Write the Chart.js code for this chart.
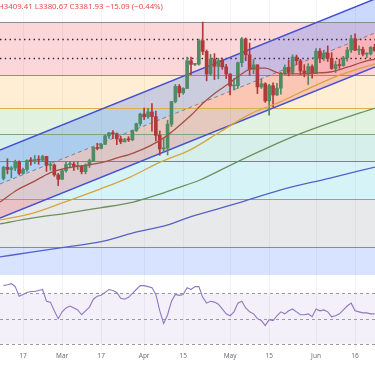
<!DOCTYPE html>
<html><head><meta charset="utf-8">
<script src="https://cdn.jsdelivr.net/npm/chart.js@4.4.1/dist/chart.umd.min.js"></script>
<style>
html,body{margin:0;padding:0;background:#fff;width:375px;height:366px;overflow:hidden;font-family:'Noto Sans','DejaVu Sans',sans-serif}
#main{position:absolute;left:0;top:0;width:375px;height:275px}
#rsi{position:absolute;left:0;top:275px;width:375px;height:91px}
#hdr{position:absolute;left:-2px;top:1px;font-size:7.8px;color:#ee4c46;white-space:nowrap;z-index:2;line-height:10px;font-family:'Noto Sans',sans-serif}
</style></head><body>
<div id="main"><canvas id="c1"></canvas></div>
<div id="rsi"><canvas id="c2"></canvas></div>
<div id="hdr">H3409.41 L3380.67 C3381.93 −15.09 (−0.44%)</div>
<script>
// ---- categories (trading days) ----
const dates = ['02-10','02-11','02-12','02-13','02-14','02-17','02-18','02-19','02-20','02-21','02-24','02-25','02-26','02-27','02-28',
'03-03','03-04','03-05','03-06','03-07','03-10','03-11','03-12','03-13','03-14','03-17','03-18','03-19','03-20','03-21','03-24','03-25','03-26','03-27','03-28','03-31',
'04-01','04-02','04-03','04-04','04-07','04-08','04-09','04-10','04-11','04-14','04-15','04-16','04-17','04-18','04-21','04-22','04-23','04-24','04-25','04-28','04-29','04-30',
'05-01','05-02','05-05','05-06','05-07','05-08','05-09','05-12','05-13','05-14','05-15','05-16','05-19','05-20','05-21','05-22','05-23','05-26','05-27','05-28','05-29','05-30',
'06-02','06-03','06-04','06-05','06-06','06-09','06-10','06-11','06-12','06-13','06-16','06-17','06-18','06-19','06-20','06-23'];
const tickIndex = [5,15,25,36,46,58,68,80,90];
const tickText = ['17','Mar','17','Apr','15','May','15','Jun','16'];

// ---- OHLC ----
const open = [2861,2907,2898,2904,2929,2882,2898,2935,2933,2939,2936,2951,2915,2916,2876,
2858,2893,2918,2920,2910,2911,2889,2916,2934,2988,2984,3001,3035,3047,3044,3023,3011,3020,3019,3057,3085,
3124,3113,3133,3114,3037,2982,2985,3083,3175,3237,3211,3229,3342,3327,3328,3424,3380,3288,3349,3319,3343,3317,
3288,3239,3240,3334,3431,3366,3306,3325,3235,3248,3178,3240,3202,3230,3290,3315,3294,3357,3342,3300,3289,3318,
3289,3381,3353,3373,3352,3310,3326,3322,3354,3386,3432,3385,3388,3369,3370,3397];
const high = [2911,2942,2910,2936,2933,2904,2937,2947,2955,2954,2956,2952,2930,2920,2882,
2897,2928,2930,2927,2930,2915,2921,2940,2990,3005,3004,3038,3050,3057,3047,3033,3025,3032,3059,3087,3128,
3149,3148,3167,3136,3055,3023,3099,3176,3245,3245,3232,3357,3357,3331,3430,3500,3386,3368,3371,3352,3353,3327,
3289,3269,3336,3437,3435,3414,3347,3326,3266,3252,3246,3252,3250,3295,3325,3345,3366,3365,3348,3326,3330,3325,
3392,3392,3385,3403,3375,3340,3349,3360,3397,3446,3452,3403,3398,3374,3400,3409.41];
const low = [2855,2880,2864,2893,2876,2880,2890,2915,2922,2919,2930,2890,2895,2870,2832,
2857,2887,2905,2894,2898,2880,2880,2906,2930,2978,2982,2999,3025,3025,2999,3003,3010,3012,3015,3053,3076,
3101,3106,3054,3015,2956,2970,2957,3073,3170,3194,3205,3228,3285,3322,3324,3367,3260,3282,3265,3268,3307,3269,
3202,3223,3229,3318,3342,3282,3289,3208,3229,3172,3120,3154,3200,3205,3286,3280,3287,3325,3285,3276,3245,3271,
3289,3334,3343,3339,3307,3294,3311,3319,3340,3376,3383,3367,3362,3355,3365,3380.67];
const close = [2907,2898,2904,2929,2882,2898,2935,2933,2939,2936,2951,2915,2916,2876,2858,
2893,2918,2920,2910,2911,2889,2916,2934,2988,2984,3001,3035,3047,3044,3023,3011,3020,3019,3057,3085,3124,
3113,3133,3114,3037,2982,2985,3083,3175,3237,3211,3229,3342,3327,3328,3424,3380,3288,3349,3319,3343,3317,3288,
3239,3240,3334,3431,3366,3306,3325,3235,3248,3178,3240,3202,3230,3290,3315,3294,3357,3342,3300,3289,3318,3289,
3381,3353,3373,3352,3310,3326,3322,3354,3386,3432,3385,3388,3369,3370,3397,3381.93];

// ---- moving averages: [dayIndex, price] ----
const ma20 = [[-0.9,2765],[3.5,2814],[7.6,2847],[11.9,2884],[16.3,2904],[21.4,2916],[24.7,2925],[29.1,2945],[33.2,2965],[37.5,2994],[41.4,3031],[45.2,3080],[47.8,3116],[51.1,3169],[54.2,3210],[57.5,3247],[60.6,3284],[63.9,3312],[67.0,3312],[70.3,3292],[73.4,3288],[77.2,3288],[80.5,3292],[83.6,3296],[88.0,3316],[92.1,3337],[95.1,3349]];
const ma50 = [[-0.9,2692],[7.6,2720],[16.3,2769],[24.7,2818],[32.4,2867],[40.1,2928],[47.8,2978],[55.4,3051],[63.1,3124],[70.8,3174],[78.5,3231],[86.2,3284],[95.1,3329]];
const ma100 = [[-0.9,2676],[7.6,2700],[16.3,2720],[24.7,2741],[33.2,2765],[39.3,2794],[44.4,2822],[50.3,2855],[59.3,2925],[66.4,2978],[75.2,3039],[83.6,3088],[95.1,3149]];
const ma200 = [[-0.9,2541],[7.6,2561],[16.3,2582],[24.7,2602],[33.2,2639],[41.9,2671],[47.8,2704],[59.3,2757],[70.8,2814],[83.6,2863],[95.1,2908]];

// ---- RSI ----
const rsi = [76.2,76.9,77.7,75.4,67.7,69.2,70.8,71.5,71.5,72.3,73.1,63.8,63.1,56.2,50.0,
55.4,58.5,60.0,58.5,56.9,53.1,56.2,59.2,65.4,67.7,68.5,70.8,73.1,72.3,70.8,66.2,65.4,66.9,70.0,73.1,76.2,
76.2,75.4,74.6,69.2,56.2,46.2,53.1,63.8,69.2,68.5,69.2,74.6,73.1,75.4,75.4,66.9,62.3,63.8,63.1,61.5,57.7,53.8,
52.3,55.4,62.3,63.8,58.5,55.4,53.8,50.0,48.5,44.6,49.2,48.5,52.3,55.4,53.8,56.2,57.7,55.4,53.1,53.1,53.8,51.5,
57.7,56.2,56.9,55.4,51.5,52.3,53.8,56.9,60.0,62.3,56.2,55.4,54.6,54.6,53.8,53.8];
const rsiLevels = [70,50,30];

// ---- drawings ----
const fibHigh = 3500, fibLow = 2582;
const fibRatios = [0,0.236,0.382,0.5,0.618,0.786,1,1.618];
const dottedLevels = [3432,3353];
const channelX = [-0.9,95.1];
const channelUpper = [2977.6,3594.3];
const channelLower = [2700,3316.7];

// ---- styles ----
const fibFill = ['rgba(242,54,69,0.2)','rgba(255,152,0,0.17)','rgba(76,175,80,0.17)','rgba(8,153,129,0.16)','rgba(0,188,212,0.16)','rgba(120,123,134,0.17)','rgba(41,98,255,0.18)'];
const fibLine = ['#8a8c94','#c27a70','#dcb04e','#80a47c','#4e9a92','#5ab4c4','#8a8c94'];
const xMin = -0.9, xMax = 95.1;
const UP = '#4f8b63', DOWN = '#b3383a';

const idx = open.map((_, i) => i);
const candleCol = idx.map(i => close[i] >= open[i] ? UP : DOWN);

const mainPlugin = {
  id: 'mainDraw',
  beforeDatasetsDraw(chart) {
    const {ctx, chartArea: a, scales: {x, y}} = chart;
    ctx.save();
    ctx.beginPath(); ctx.rect(a.left, a.top, a.right - a.left, a.bottom - a.top); ctx.clip();
    const lv = fibRatios.map(r => fibHigh - r * (fibHigh - fibLow));
    for (let k = 0; k < lv.length - 1; k++) {
      const y1 = y.getPixelForValue(lv[k]), y2 = y.getPixelForValue(lv[k + 1]);
      ctx.fillStyle = fibFill[k];
      ctx.fillRect(a.left, y1, a.right - a.left, y2 - y1);
    }
    ctx.strokeStyle = 'rgba(0,0,0,0.045)'; ctx.lineWidth = 1;
    tickIndex.forEach(t => { const px = Math.round(x.getPixelForValue(t)) + 0.5; ctx.beginPath(); ctx.moveTo(px, a.top); ctx.lineTo(px, a.bottom); ctx.stroke(); });
    const xa = x.getPixelForValue(channelX[0]), xb = x.getPixelForValue(channelX[1]);
    const mid = [0, 1].map(k => (channelUpper[k] + channelLower[k]) / 2);
    const P = arr => [y.getPixelForValue(arr[0]), y.getPixelForValue(arr[1])];
    const U = P(channelUpper), L = P(channelLower), M = P(mid);
    ctx.fillStyle = 'rgba(41,98,255,0.24)';
    ctx.beginPath(); ctx.moveTo(xa, U[0]); ctx.lineTo(xb, U[1]); ctx.lineTo(xb, M[1]); ctx.lineTo(xa, M[0]); ctx.closePath(); ctx.fill();
    ctx.fillStyle = 'rgba(242,54,69,0.22)';
    ctx.beginPath(); ctx.moveTo(xa, M[0]); ctx.lineTo(xb, M[1]); ctx.lineTo(xb, L[1]); ctx.lineTo(xa, L[0]); ctx.closePath(); ctx.fill();
    for (let k = 0; k < lv.length - 1; k++) {
      const py = Math.round(y.getPixelForValue(lv[k])) + 0.5;
      ctx.strokeStyle = fibLine[k]; ctx.lineWidth = 1.2;
      ctx.beginPath(); ctx.moveTo(a.left, py); ctx.lineTo(a.right, py); ctx.stroke();
    }
    ctx.strokeStyle = '#2a2a2a'; ctx.lineWidth = 1.4; ctx.setLineDash([1.4, 3.4]);
    dottedLevels.forEach(v => { const py = Math.round(y.getPixelForValue(v)) + 0.5; ctx.beginPath(); ctx.moveTo(a.left, py); ctx.lineTo(a.right, py); ctx.stroke(); });
    ctx.strokeStyle = 'rgba(110,110,120,0.8)'; ctx.lineWidth = 1; ctx.setLineDash([4, 3]);
    ctx.beginPath(); ctx.moveTo(xa, M[0]); ctx.lineTo(xb, M[1]); ctx.stroke();
    ctx.setLineDash([]);
    ctx.strokeStyle = '#4650d2'; ctx.lineWidth = 1.5;
    ctx.beginPath(); ctx.moveTo(xa, U[0]); ctx.lineTo(xb, U[1]); ctx.stroke();
    ctx.beginPath(); ctx.moveTo(xa, L[0]); ctx.lineTo(xb, L[1]); ctx.stroke();
    ctx.restore();
  }
};

const maSet = (pts, color) => ({
  type: 'line', data: pts.map(p => ({x: p[0], y: p[1]})), borderColor: color, borderWidth: 1.3,
  pointRadius: 0, tension: 0.4, cubicInterpolationMode: 'monotone', order: 1, fill: false
});

new Chart(document.getElementById('c1'), {
  type: 'bar',
  data: {
    datasets: [
      maSet(ma200, '#5561c8'),
      maSet(ma100, '#6f8f5e'),
      maSet(ma50, '#d9a33e'),
      maSet(ma20, '#a5503f'),
      { type: 'bar', data: idx.map(i => ({x: i, y: [open[i], close[i]]})), backgroundColor: candleCol,
        barThickness: 3, minBarLength: 1, grouped: false, order: 2 },
      { type: 'bar', data: idx.map(i => ({x: i, y: [low[i], high[i]]})), backgroundColor: candleCol,
        barThickness: 1, grouped: false, order: 3 }
    ]
  },
  options: {
    responsive: true, maintainAspectRatio: false, animation: false,
    layout: {padding: 0},
    plugins: {legend: {display: false}, tooltip: {enabled: false}},
    scales: {
      x: {type: 'linear', min: xMin, max: xMax, display: false, offset: false},
      y: {min: 2467, max: 3590, display: false}
    }
  },
  plugins: [mainPlugin]
});

const rsiPlugin = {
  id: 'rsiDraw',
  beforeDatasetsDraw(chart) {
    const {ctx, chartArea: a, scales: {y}} = chart;
    ctx.save();
    const y1 = y.getPixelForValue(rsiLevels[0]), y2 = y.getPixelForValue(rsiLevels[2]);
    ctx.fillStyle = 'rgba(126,87,194,0.09)';
    ctx.fillRect(a.left, y1, a.right - a.left, y2 - y1);
    ctx.strokeStyle = 'rgba(120,123,134,0.75)'; ctx.lineWidth = 1; ctx.setLineDash([3, 3]);
    rsiLevels.forEach(v => { const py = Math.round(y.getPixelForValue(v)) + 0.5; ctx.beginPath(); ctx.moveTo(a.left, py); ctx.lineTo(a.right, py); ctx.stroke(); });
    ctx.restore();
  }
};

new Chart(document.getElementById('c2'), {
  type: 'line',
  data: {datasets: [{data: rsi.map((v, i) => ({x: i, y: v})), borderColor: '#8c79bf', borderWidth: 1.1, pointRadius: 0, tension: 0}]},
  options: {
    responsive: true, maintainAspectRatio: false, animation: false,
    layout: {padding: {left: 0, right: 0, top: 0, bottom: 4}},
    plugins: {legend: {display: false}, tooltip: {enabled: false}},
    scales: {
      x: {type: 'linear', min: xMin, max: xMax, offset: false,
        afterBuildTicks: s => { s.ticks = tickIndex.map(v => ({value: v})); },
        ticks: {autoSkip: false, maxRotation: 0, padding: 2, color: '#6d707a',
          font: {size: 6.5, family: "'Noto Sans', sans-serif"},
          callback: v => tickText[tickIndex.indexOf(v)]},
        grid: {color: 'rgba(0,0,0,0.05)', drawTicks: false}, border: {display: false}},
      y: {min: 25, max: 84.6, display: false}
    }
  },
  plugins: [rsiPlugin]
});
</script>
</body></html>
